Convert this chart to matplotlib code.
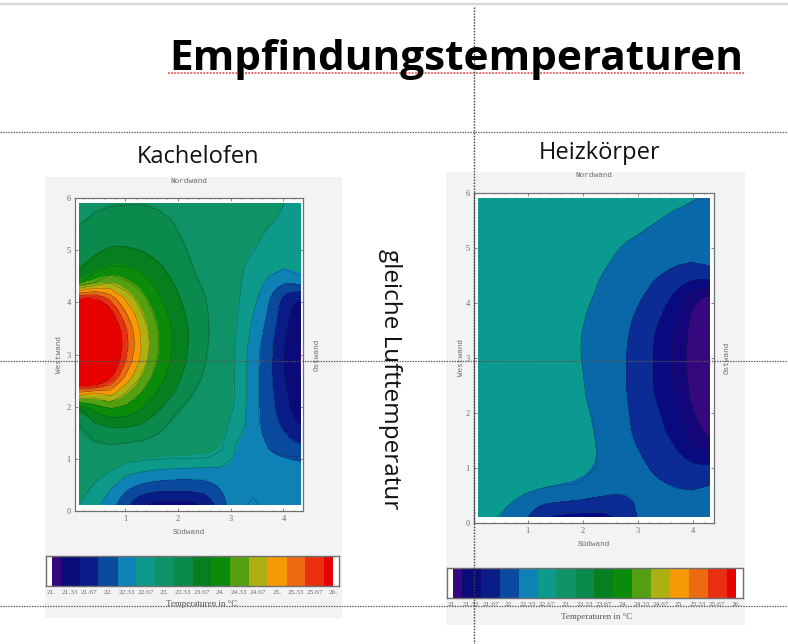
import matplotlib
matplotlib.use("Agg")
import matplotlib.pyplot as plt
from matplotlib.colors import ListedColormap, BoundaryNorm
from matplotlib.patches import Rectangle

TITLE = "Empfindungstemperaturen"
NAME_L = "Kachelofen"
NAME_R = "Heizkörper"
NOTE = "gleiche Lufttemperatur"
CBAR_LABEL = "Temperaturen in °C"
WALLS = ["Nordwand", "Südwand", "Westwand", "Ostwand"]

TICK_VALUES = [21, 21.33, 21.67, 22, 22.33, 22.67, 23, 23.33, 23.67, 24, 24.33, 24.67, 25, 25.33, 25.67, 26]
TICK_LABELS = ["21.", "21.33", "21.67", "22.", "22.33", "22.67", "23.", "23.33", "23.67", "24.",
               "24.33", "24.67", "25.", "25.33", "25.67", "26."]
BAND_EDGES = [21, 21.17, 21.5, 21.83, 22.17, 22.5, 22.83, 23.17, 23.5, 23.83, 24.17, 24.5, 24.83, 25.17, 25.5, 25.83, 26]
BAND_COLORS = ["#36087E", "#0A0A78", "#0A1C88", "#0A4A9E", "#0E82B4", "#0E9A8A", "#0E9266", "#0A8A4C",
               "#067F1E", "#0A8C0A", "#55A010", "#ACB010", "#F59A05", "#EC6A10", "#E83010", "#E60000"]
RIGHT_COLORS = ["#36087E", "#14067A", "#0A0A80", "#0A2C94", "#0868A8", "#0A9A90", "#0E9266", "#0A8A4C",
                "#067F1E", "#0A8C0A", "#55A010", "#ACB010", "#F59A05", "#EC6A10", "#E83010", "#E60000"]

# Grid of temperatures (rows: south to north, columns: west to east)
XL = [.12, .42, .72, 1.02, 1.32, 1.62, 1.92, 2.22, 2.52, 2.82, 3.12, 3.42, 3.72, 4.02, 4.32]
YL = [.11, .415, .72, 1.025, 1.33, 1.635, 1.94, 2.245, 2.55, 2.855, 3.16, 3.465, 3.77, 4.075, 4.38, 4.685, 4.99, 5.295, 5.6, 5.905]
ZL = [
 [22.83, 22.60, 22.30, 21.85, 21.42, 21.30, 21.28, 21.30, 21.45, 22.05, 22.40, 22.55, 22.42, 22.30, 22.22],
 [23.00, 22.75, 22.50, 22.20, 22.00, 21.93, 21.90, 21.93, 21.98, 22.20, 22.40, 22.45, 22.38, 22.30, 22.25],
 [23.12, 22.95, 22.80, 22.55, 22.45, 22.38, 22.34, 22.32, 22.30, 22.32, 22.38, 22.36, 22.28, 22.22, 22.20],
 [23.15, 23.12, 23.05, 22.98, 22.92, 22.89, 22.86, 22.86, 22.84, 22.78, 22.40, 22.25, 22.20, 22.20, 22.19],
 [23.08, 23.16, 23.20, 23.19, 23.15, 23.10, 23.05, 23.00, 22.95, 22.90, 22.50, 22.28, 22.14, 21.95, 21.70],
 [23.15, 23.42, 23.54, 23.54, 23.47, 23.25, 23.10, 23.03, 22.98, 22.93, 22.70, 22.30, 22.00, 21.75, 21.40],
 [23.40, 23.90, 24.10, 24.05, 23.80, 23.55, 23.22, 23.08, 23.02, 22.97, 22.78, 22.27, 21.98, 21.62, 21.25],
 [25.00, 24.70, 24.95, 24.45, 24.13, 23.78, 23.51, 23.20, 23.05, 23.00, 22.80, 22.30, 21.95, 21.55, 21.20],
 [27.00, 27.00, 25.95, 25.05, 24.42, 23.97, 23.65, 23.33, 23.12, 23.00, 22.80, 22.30, 21.93, 21.45, 21.10],
 [27.50, 27.30, 26.40, 25.45, 24.68, 24.12, 23.75, 23.44, 23.17, 23.02, 22.80, 22.32, 21.93, 21.45, 21.10],
 [27.50, 27.20, 26.50, 25.62, 24.78, 24.18, 23.78, 23.47, 23.20, 23.02, 22.80, 22.35, 21.95, 21.45, 21.10],
 [27.50, 27.20, 26.40, 25.55, 24.72, 24.17, 23.78, 23.48, 23.21, 23.03, 22.82, 22.42, 22.03, 21.52, 21.15],
 [27.00, 26.90, 26.05, 25.20, 24.53, 24.02, 23.72, 23.42, 23.20, 23.03, 22.85, 22.50, 22.12, 21.62, 21.25],
 [25.90, 26.00, 25.40, 24.75, 24.28, 23.88, 23.62, 23.33, 23.18, 23.00, 22.87, 22.62, 22.20, 21.60, 21.40],
 [23.70, 24.17, 24.47, 24.22, 24.00, 23.72, 23.49, 23.25, 23.12, 22.98, 22.88, 22.70, 22.42, 22.20, 22.40],
 [23.42, 23.67, 23.85, 23.82, 23.72, 23.55, 23.38, 23.19, 23.08, 22.98, 22.90, 22.75, 22.63, 22.55, 22.65],
 [23.32, 23.42, 23.55, 23.55, 23.49, 23.38, 23.28, 23.15, 23.05, 22.97, 22.90, 22.84, 22.75, 22.70, 22.68],
 [23.22, 23.32, 23.36, 23.35, 23.33, 23.27, 23.20, 23.12, 23.02, 22.95, 22.90, 22.88, 22.80, 22.75, 22.72],
 [23.13, 23.20, 23.23, 23.24, 23.24, 23.21, 23.16, 23.09, 23.02, 22.97, 22.93, 22.91, 22.86, 22.80, 22.77],
 [23.10, 23.13, 23.15, 23.16, 23.16, 23.14, 23.11, 23.07, 23.03, 22.99, 22.96, 22.93, 22.88, 22.83, 22.80],
]

# Grid of temperatures
XR = [.10, .40, .70, 1.00, 1.30, 1.60, 1.90, 2.20, 2.50, 2.80, 3.10, 3.40, 3.70, 4.00, 4.30]
YR = YL
ZR = [
 [22.60, 22.52, 22.38, 22.17, 21.72, 21.70, 21.68, 21.68, 21.72, 22.00, 22.28, 22.35, 22.35, 22.33, 22.30],
 [22.72, 22.65, 22.52, 22.40, 22.30, 22.24, 22.19, 22.14, 22.08, 22.10, 22.28, 22.34, 22.28, 22.27, 22.24],
 [22.76, 22.74, 22.68, 22.62, 22.57, 22.53, 22.51, 22.40, 22.33, 22.30, 22.25, 22.20, 22.12, 22.10, 22.20],
 [22.78, 22.76, 22.74, 22.70, 22.66, 22.62, 22.57, 22.52, 22.38, 22.30, 22.21, 22.07, 21.95, 21.87, 21.92],
 [22.78, 22.77, 22.75, 22.72, 22.68, 22.64, 22.60, 22.53, 22.38, 22.26, 22.13, 21.98, 21.85, 21.65, 21.30],
 [22.78, 22.77, 22.75, 22.72, 22.68, 22.64, 22.58, 22.51, 22.36, 22.21, 22.05, 21.88, 21.73, 21.35, 21.05],
 [22.78, 22.77, 22.75, 22.72, 22.68, 22.64, 22.57, 22.49, 22.33, 22.20, 22.03, 21.85, 21.65, 21.20, 20.90],
 [22.78, 22.77, 22.75, 22.72, 22.68, 22.63, 22.56, 22.45, 22.32, 22.18, 21.98, 21.77, 21.53, 21.05, 20.85],
 [22.78, 22.77, 22.75, 22.72, 22.68, 22.62, 22.55, 22.43, 22.30, 22.17, 21.97, 21.72, 21.45, 21.02, 20.85],
 [22.78, 22.77, 22.75, 22.72, 22.68, 22.62, 22.54, 22.41, 22.29, 22.17, 21.97, 21.71, 21.42, 21.00, 20.85],
 [22.78, 22.77, 22.75, 22.72, 22.68, 22.62, 22.53, 22.38, 22.28, 22.18, 21.98, 21.72, 21.42, 21.00, 20.85],
 [22.78, 22.77, 22.75, 22.72, 22.68, 22.62, 22.54, 22.40, 22.30, 22.20, 21.99, 21.75, 21.45, 21.02, 20.85],
 [22.78, 22.77, 22.75, 22.72, 22.68, 22.63, 22.56, 22.44, 22.34, 22.24, 22.06, 21.85, 21.57, 21.05, 20.90],
 [22.78, 22.77, 22.75, 22.72, 22.68, 22.64, 22.58, 22.49, 22.38, 22.29, 22.16, 21.97, 21.72, 21.20, 20.95],
 [22.78, 22.77, 22.75, 22.72, 22.69, 22.65, 22.60, 22.53, 22.42, 22.34, 22.25, 22.10, 21.95, 21.80, 21.75],
 [22.78, 22.77, 22.76, 22.73, 22.70, 22.66, 22.61, 22.56, 22.49, 22.42, 22.35, 22.27, 22.18, 22.14, 22.25],
 [22.78, 22.77, 22.76, 22.74, 22.71, 22.69, 22.67, 22.60, 22.53, 22.47, 22.42, 22.37, 22.33, 22.30, 22.32],
 [22.78, 22.77, 22.76, 22.75, 22.73, 22.71, 22.69, 22.65, 22.58, 22.54, 22.50, 22.45, 22.40, 22.37, 22.35],
 [22.78, 22.77, 22.77, 22.76, 22.75, 22.73, 22.71, 22.68, 22.63, 22.58, 22.55, 22.52, 22.46, 22.42, 22.40],
 [22.78, 22.78, 22.77, 22.77, 22.76, 22.75, 22.73, 22.71, 22.68, 22.64, 22.62, 22.60, 22.57, 22.52, 22.48],
]

W, H = 788, 644
PIX = dict(left=(75, 198, 303, 511), right=(474, 193, 714, 523))
LIMS = dict(left=((0.05, 4.37), (0.0, 6.0)), right=((0.03, 4.38), (0.0, 6.0)))
WALL_POS = dict(left=(.054, -.068, -.066, 1.06), right=(.052, -.066, -.054, 1.054))
SERIF = "Liberation Serif"
MONO = "Liberation Mono"
GREY = "#6a6a6a"

fig = plt.figure(figsize=(W / 100, H / 100), dpi=100, facecolor="white")


def px_axes(x0, y0, x1, y1, **kw):
    return fig.add_axes([x0 / W, 1 - y1 / H, (x1 - x0) / W, (y1 - y0) / H], **kw)


bg = fig.add_axes([0, 0, 1, 1], zorder=0)
bg.set_xlim(0, W); bg.set_ylim(H, 0); bg.axis("off")
bg.add_patch(Rectangle((45, 177), 297, 441, fc="#F3F3F6", ec="none"))
bg.add_patch(Rectangle((446, 172), 299, 453, fc="#F3F3F6", ec="none"))
bg.plot([0, W], [3.5, 3.5], color="#D6D6D6", lw=1.6)


def contour_map(key, x, y, z, colors):
    ax = px_axes(*PIX[key], zorder=2)
    edges = [20] + BAND_EDGES[1:-1] + [30]
    cmap = ListedColormap(colors)
    norm = BoundaryNorm(edges, cmap.N)
    dx, dy = (x[1] - x[0]) / 2, (y[1] - y[0]) / 2
    im = ax.imshow(z, origin="lower", extent=(x[0] - dx, x[-1] + dx, y[0] - dy, y[-1] + dy),
                   cmap=cmap, norm=norm, interpolation="bicubic", interpolation_stage="data", aspect="auto")
    clip = Rectangle((x[0], y[0]), x[-1] - x[0], y[-1] - y[0], transform=ax.transData)
    im.set_clip_path(clip)
    cs = ax.contour(x, y, z, levels=BAND_EDGES[1:-1], colors="#062a20", linewidths=0.45, alpha=0.4)
    cs.set_clip_path(clip)
    ax.set_xlim(*LIMS[key][0]); ax.set_ylim(*LIMS[key][1])
    ax.set_xticks([1, 2, 3, 4]); ax.set_yticks([0, 1, 2, 3, 4, 5, 6])
    ax.set_xticks([.2, .4, .6, .8, 1.2, 1.4, 1.6, 1.8, 2.2, 2.4, 2.6, 2.8, 3.2, 3.4, 3.6, 3.8, 4.2], minor=True)
    ax.tick_params(which="both", direction="in", top=True, right=True, length=2, width=0.5, color="#555555",
                   labelsize=6, labelcolor=GREY)
    ax.tick_params(which="minor", length=1)
    ax.tick_params(axis="x", pad=3)
    ax.tick_params(axis="y", pad=3)
    for lab in ax.get_xticklabels() + ax.get_yticklabels():
        lab.set_family(SERIF)
    for s in ax.spines.values():
        s.set_color("#707070"); s.set_linewidth(0.9)
    top, bottom, west, east = WALL_POS[key]
    ax.text(0.5, 1 + top, WALLS[0], transform=ax.transAxes, ha="center", va="center", family=MONO, fontsize=5.5, color=GREY)
    ax.text(0.5, bottom, WALLS[1], transform=ax.transAxes, ha="center", va="center", family=MONO, fontsize=5.5, color=GREY)
    ax.text(west, 0.5, WALLS[2], transform=ax.transAxes, rotation=90, ha="center", va="center", family=MONO, fontsize=5.5, color=GREY)
    ax.text(east, 0.5, WALLS[3], transform=ax.transAxes, rotation=90, ha="center", va="center", family=MONO, fontsize=5.5, color=GREY)
    return ax


contour_map("left", XL, YL, ZL, BAND_COLORS)
contour_map("right", XR, YR, ZR, RIGHT_COLORS)


def colorbar(frame, lim, label_pos):
    ax = px_axes(*frame, zorder=2)
    ax.pcolormesh(BAND_EDGES, [0, 1], [TICK_VALUES], cmap=ListedColormap(BAND_COLORS),
                  norm=BoundaryNorm(BAND_EDGES, 16), edgecolors="none")
    ax.set_xlim(*lim); ax.set_ylim(0, 1)
    ax.set_facecolor("white"); ax.set_yticks([])
    ax.set_xticks(TICK_VALUES, TICK_LABELS, family=SERIF, fontsize=5.3, color=GREY)
    ax.tick_params(length=0, pad=3)
    for s in ax.spines.values():
        s.set_color("#707070"); s.set_linewidth(1.0)
    bg.text(*label_pos, CBAR_LABEL, ha="center", va="center", family=SERIF, fontsize=6.5, color="#555555")


colorbar((46, 556, 339, 586), (20.9, 26.1), (202, 604))
colorbar((447, 568, 743, 598), (20.9, 26.12), (597, 617))

fg = fig.add_axes([0, 0, 1, 1], zorder=10)
fg.set_xlim(0, W); fg.set_ylim(H, 0); fg.axis("off"); fg.patch.set_alpha(0)
fg.text(456.5, 70, TITLE, ha="center", va="baseline", family="Open Sans", weight="bold", fontsize=30.5, color="black")
fg.plot([168, 745], [73, 73], color="#E04040", lw=1.1, ls=(0, (1.2, 0.9)))
fg.text(198, 157, NAME_L, ha="center", va="center", family="Open Sans", fontsize=17, color="#111111")
fg.text(600, 153, NAME_R, ha="center", va="center", family="Open Sans", fontsize=17, color="#111111")
fg.text(390, 379, NOTE, rotation=-90, ha="center", va="center", family="Open Sans", fontsize=17.5, color="#111111")
for gy in (132, 361, 606):
    fg.plot([0, W], [gy, gy], color="#555555", lw=0.9, ls=(0, (1.1, 1.0)))
fg.plot([474, 474], [7, H], color="#444444", lw=1.0, ls=(0, (1.1, 1.0)))

fig.savefig("out.png", dpi=100)
